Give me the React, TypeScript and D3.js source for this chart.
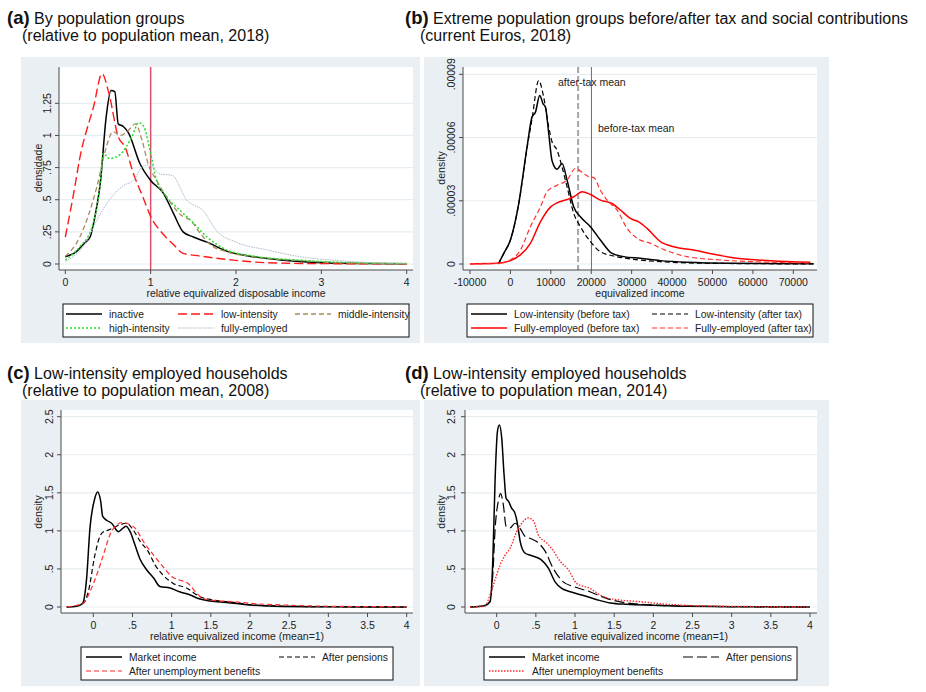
import React from 'react';
import * as d3 from 'd3';

// ---- data ----
// panel a: density by population group, x = relative income
const aInactive = [[0,0.057],[0.13,0.096],[0.22,0.16],[0.29,0.21],[0.35,0.38],[0.41,0.63],[0.48,1.15],[0.535,1.35],[0.58,1.34],[0.62,1.09],[0.68,1.07],[0.74,1.02],[0.875,0.78],[1.0,0.65],[1.15,0.55],[1.27,0.39],[1.38,0.25],[1.5,0.21],[1.66,0.17],[1.89,0.10],[2.2,0.057],[2.55,0.03],[3.0,0.01],[3.5,0.004],[4,0.002]];
const aLowInt = [[0,0.21],[0.09,0.52],[0.19,0.89],[0.25,1.04],[0.33,1.22],[0.43,1.48],[0.51,1.33],[0.62,0.99],[0.70,0.91],[0.80,0.70],[0.91,0.52],[1.01,0.355],[1.11,0.26],[1.27,0.15],[1.38,0.083],[1.58,0.062],[1.97,0.03],[2.36,0.01],[3,0.003],[4,0.001]];
const aMidInt = [[0,0.06],[0.17,0.21],[0.37,0.60],[0.48,0.91],[0.56,1.03],[0.64,1.0],[0.74,1.04],[0.82,1.09],[0.90,0.96],[0.97,0.78],[1.07,0.65],[1.19,0.52],[1.34,0.39],[1.48,0.33],[1.58,0.24],[1.70,0.15],[1.89,0.096],[2.2,0.057],[2.75,0.026],[3.5,0.005],[4,0.002]];
const aHighInt = [[0,0.03],[0.17,0.135],[0.31,0.28],[0.41,0.63],[0.445,0.86],[0.52,0.82],[0.64,0.85],[0.78,0.99],[0.86,1.10],[0.92,1.07],[0.99,0.89],[1.07,0.65],[1.19,0.52],[1.34,0.42],[1.5,0.32],[1.66,0.21],[1.89,0.11],[2.2,0.062],[2.75,0.03],[3.5,0.008],[4,0.003]];
const aFullEmp = [[0,0.02],[0.21,0.135],[0.41,0.39],[0.52,0.50],[0.68,0.61],[0.80,0.65],[0.91,0.76],[0.99,0.77],[1.11,0.70],[1.25,0.69],[1.42,0.50],[1.62,0.41],[1.77,0.26],[2.0,0.17],[2.36,0.11],[2.75,0.057],[3.14,0.03],[3.6,0.01],[4,0.005]];
const aXTicks = [0, 1, 2, 3, 4];
const aYTicks = [0, 0.25, 0.5, 0.75, 1, 1.25];
const aMeanLine = 1;

// panel b: euros, density in units of 1e-5
const bLowBefore = [[-3000,0],[-1650,0.5],[0,1.14],[2060,2.87],[4120,5.56],[5360,6.98],[6190,7.2],[7260,8.0],[8080,7.6],[8660,7.45],[9480,6.2],[10300,4.9],[11550,4.5],[12780,4.77],[14020,3.98],[15670,2.7],[17320,2.24],[19800,1.77],[22270,1.14],[25150,0.5],[28040,0.35],[32160,0.27],[37100,0.16],[43700,0.08],[55000,0.03],[75000,0.01]];
const bLowAfter = [[-3000,0],[-1650,0.5],[0,1.14],[2060,2.85],[4120,5.5],[5360,6.9],[7000,8.7],[8250,7.9],[9480,6.5],[10300,5.8],[11550,5.4],[12780,4.6],[14020,3.66],[15670,2.4],[17320,1.77],[19800,1.06],[22270,0.58],[25570,0.38],[30500,0.22],[37100,0.11],[50000,0.03],[75000,0.005]];
const bFullBefore = [[-10000,0],[-3300,0.03],[0,0.16],[2470,0.43],[4950,0.98],[7420,2.0],[9900,2.7],[11550,2.9],[14020,3.06],[15670,3.19],[17730,3.43],[19800,3.3],[22270,3.03],[25150,2.87],[27220,2.56],[29690,2.16],[31750,2.0],[33810,1.69],[37110,1.06],[40410,0.82],[45360,0.66],[50310,0.46],[56080,0.27],[64330,0.16],[74230,0.08]];
const bFullAfter = [[-10000,0],[-3300,0.03],[0,0.2],[2470,0.66],[4950,1.77],[7420,2.7],[9070,3.43],[11550,3.74],[14020,3.98],[16080,4.53],[18140,4.29],[19380,4.14],[20620,4.1],[22270,3.5],[23920,3.03],[26390,2.56],[28870,1.69],[31340,1.22],[34640,0.98],[37940,0.69],[43710,0.35],[51960,0.19],[60210,0.11],[74000,0.05]];
const bXTicks = [-10000, 0, 10000, 20000, 30000, 40000, 50000, 60000, 70000];
const bYTicks = [0, 3, 6, 9];
const bYLabels = ['0', '.00003', '.00006', '.00009'];
const bAfterTaxMean = 16750;
const bBeforeTaxMean = 20050;

// panel c: low-intensity households 2008
const cMarket = [[-0.34,0],[-0.21,0.01],[-0.136,0.05],[-0.085,0.38],[-0.043,1.03],[0.02,1.43],[0.055,1.51],[0.094,1.39],[0.12,1.19],[0.17,1.14],[0.234,1.10],[0.32,0.99],[0.383,1.04],[0.417,1.06],[0.47,0.99],[0.53,0.82],[0.6,0.62],[0.68,0.49],[0.77,0.38],[0.85,0.27],[0.98,0.25],[1.1,0.2],[1.23,0.16],[1.36,0.105],[1.49,0.08],[1.70,0.06],[2.0,0.026],[2.3,0.01],[3,0.003],[4,0]];
const cPensions = [[-0.34,0],[-0.136,0.04],[-0.064,0.2],[0.02,0.68],[0.085,0.93],[0.13,0.99],[0.19,1.01],[0.255,1.04],[0.34,1.08],[0.425,1.10],[0.51,1.01],[0.6,0.86],[0.70,0.73],[0.79,0.55],[0.89,0.42],[1.02,0.31],[1.19,0.25],[1.36,0.135],[1.53,0.092],[1.79,0.06],[2.04,0.026],[2.5,0.01],[3,0.004],[4,0]];
const cUnemp = [[-0.34,0],[-0.128,0.05],[-0.043,0.2],[0.043,0.42],[0.128,0.68],[0.213,0.95],[0.30,1.08],[0.36,1.11],[0.45,1.09],[0.53,1.04],[0.64,0.86],[0.77,0.68],[0.89,0.53],[1.0,0.40],[1.1,0.355],[1.21,0.31],[1.32,0.18],[1.40,0.114],[1.57,0.083],[1.79,0.07],[2.0,0.048],[2.43,0.026],[3,0.01],[4,0.003]];

// panel d: low-intensity households 2014
const dMarket = [[-0.34,0],[-0.15,0.02],[-0.085,0.07],[-0.05,0.6],[-0.02,1.69],[0.01,2.31],[0.034,2.39],[0.064,2.22],[0.094,1.74],[0.12,1.43],[0.15,1.39],[0.19,1.30],[0.234,1.23],[0.264,1.10],[0.30,0.86],[0.36,0.71],[0.43,0.68],[0.49,0.66],[0.57,0.62],[0.66,0.51],[0.745,0.33],[0.83,0.245],[0.94,0.2],[1.11,0.15],[1.28,0.096],[1.45,0.053],[1.66,0.035],[2.0,0.022],[2.43,0.009],[3,0.004],[4,0]];
const dPensions = [[-0.34,0],[-0.15,0.02],[-0.085,0.07],[-0.05,0.42],[-0.02,1.03],[0.02,1.39],[0.05,1.49],[0.085,1.34],[0.12,1.06],[0.17,1.04],[0.234,1.10],[0.30,1.03],[0.36,0.93],[0.43,0.90],[0.51,0.86],[0.62,0.73],[0.72,0.51],[0.85,0.33],[0.98,0.27],[1.19,0.2],[1.40,0.114],[1.66,0.053],[2.0,0.026],[2.43,0.013],[3,0.005],[4,0]];
const dUnemp = [[-0.34,0],[-0.15,0.01],[-0.085,0.16],[-0.02,0.36],[0.043,0.55],[0.106,0.68],[0.17,0.77],[0.255,0.99],[0.32,1.10],[0.40,1.17],[0.47,1.13],[0.53,0.95],[0.64,0.84],[0.70,0.77],[0.81,0.60],[0.915,0.49],[1.02,0.31],[1.19,0.245],[1.36,0.136],[1.57,0.092],[1.83,0.07],[2.13,0.04],[2.51,0.018],[3,0.008],[4,0.002]];
const cdXTicks = [0, 0.5, 1, 1.5, 2, 2.5, 3, 3.5, 4];
const cdYTicks = [0, 0.5, 1, 1.5, 2, 2.5];

const FONT = "'Liberation Sans', Arial, Helvetica, sans-serif";
const BG = '#e9eff2';
const GRID = '#e6eef1';
const AXIS = '#4a4a4a';
const TXT = '#222';

// stata style: .5 instead of 0.5
const fmt = (v: number) => String(v).replace(/^(-?)0\./, '$1.');

const Panel = ({ cfg }: any) => {
  const x = d3.scaleLinear().domain(cfg.xDomain).range(cfg.xRange);
  const y = d3.scaleLinear().domain(cfg.yDomain).range(cfg.yRange);
  const line = d3.line<number[]>()
    .x(d => x(d[0]))
    .y(d => y(d[1]))
    .curve(d3.curveMonotoneX);
  const p = cfg.plot;
  return (
    <g>
      <rect x={cfg.bg[0]} y={cfg.bg[1]} width={cfg.bg[2]} height={cfg.bg[3]} fill={BG} />
      <rect x={p.x1} y={p.y1} width={p.x2 - p.x1} height={p.y2 - p.y1} fill="#fff" />
      {cfg.yTicks.map((t: number) => (
        <line key={'g' + t} x1={p.x1} x2={p.x2} y1={y(t)} y2={y(t)} stroke={GRID} strokeWidth={1.2} />
      ))}
      {(cfg.vlines || []).map((v: any, i: number) => (
        <line key={'v' + i} x1={x(v.value)} x2={x(v.value)} y1={p.y1} y2={p.y2}
          stroke={v.color} strokeWidth={v.width} strokeDasharray={v.dash} />
      ))}
      {(cfg.notes || []).map((n: any, i: number) => (
        <text key={'n' + i} x={n.x} y={n.y} fontSize={10.5} fill={TXT}>{n.text}</text>
      ))}
      {cfg.series.map((s: any, i: number) => (
        <path key={'s' + i} d={line(s.data) || ''} fill="none" stroke={s.color}
          strokeWidth={s.width} strokeDasharray={s.dash} strokeLinejoin="round" />
      ))}
      {/* axes */}
      <line x1={p.x1} x2={p.x1} y1={p.y1} y2={p.y2} stroke={AXIS} strokeWidth={1} />
      <line x1={p.x1} x2={p.x2} y1={p.y2} y2={p.y2} stroke={AXIS} strokeWidth={1} />
      {cfg.yTicks.map((t: number, i: number) => (
        <g key={'yt' + t}>
          <line x1={p.x1 - 4} x2={p.x1} y1={y(t)} y2={y(t)} stroke={AXIS} />
          <text transform={`translate(${cfg.yLabelX},${y(t)}) rotate(-90)`} textAnchor="middle"
            fontSize={10.5} fill={TXT}>{cfg.yLabels ? cfg.yLabels[i] : fmt(t)}</text>
        </g>
      ))}
      {cfg.xTicks.map((t: number) => (
        <g key={'xt' + t}>
          <line x1={x(t)} x2={x(t)} y1={p.y2} y2={p.y2 + 4} stroke={AXIS} />
          <text x={x(t)} y={p.y2 + 16} textAnchor="middle" fontSize={10.5} fill={TXT}>{fmt(t)}</text>
        </g>
      ))}
      <text x={cfg.xTitle.x} y={p.y2 + 27} textAnchor="middle" fontSize={10.5} fill={TXT}>{cfg.xTitle.text}</text>
      <text transform={`translate(${cfg.yTitle.x},${cfg.yTitle.y}) rotate(-90)`} textAnchor="middle"
        fontSize={10.5} fill={TXT}>{cfg.yTitle.text}</text>
      {/* legend */}
      <rect x={cfg.legend.box[0]} y={cfg.legend.box[1]} width={cfg.legend.box[2]} height={cfg.legend.box[3]}
        fill="#fff" stroke="#111" strokeWidth={1} />
      {cfg.legend.items.map((it: any, i: number) => {
        const s = cfg.series[it.s];
        return (
          <g key={'l' + i}>
            <line x1={it.x} x2={it.x + 36} y1={it.y} y2={it.y} stroke={s.color}
              strokeWidth={s.width} strokeDasharray={s.dash} />
            <text x={it.x + 43} y={it.y + 4} fontSize={10.3} fill={TXT}>{s.name}</text>
          </g>
        );
      })}
      {/* title */}
      <text x={cfg.title.x} y={cfg.title.y} fontSize={16} fill="#111">
        <tspan fontWeight="bold" fontSize={18.5}>{cfg.title.tag}</tspan>
        <tspan> {cfg.title.line1}</tspan>
      </text>
      <text x={cfg.title.x + 15} y={cfg.title.y + 17} fontSize={16} fill="#111">{cfg.title.line2}</text>
    </g>
  );
};

const panelA = {
  bg: [21, 57, 399, 286],
  plot: { x1: 59, x2: 413, y1: 67, y2: 270 },
  xDomain: [0, 4], xRange: [65.3, 406.7],
  yDomain: [0, 1.25], yRange: [264, 103.3],
  xTicks: aXTicks, yTicks: aYTicks, yLabelX: 51,
  xTitle: { text: 'relative equivalized disposable income', x: 236 },
  yTitle: { text: 'densidade', x: 42, y: 168 },
  vlines: [{ value: aMeanLine, color: '#d94f6c', width: 1.5 }],
  series: [
    { name: 'inactive', data: aInactive, color: '#000', width: 1.5 },
    { name: 'low-intensity', data: aLowInt, color: '#ff1a1a', width: 1.4, dash: '9,4' },
    { name: 'middle-intensity', data: aMidInt, color: '#a88a62', width: 1.3, dash: '5,3' },
    { name: 'high-intensity', data: aHighInt, color: '#22e022', width: 1.5, dash: '2,2' },
    { name: 'fully-employed', data: aFullEmp, color: '#a9b9cc', width: 1, dash: '1.5,1' },
  ],
  legend: {
    box: [63, 304, 346, 33],
    items: [
      { s: 0, x: 66, y: 314 }, { s: 1, x: 178, y: 314 }, { s: 2, x: 295, y: 314 },
      { s: 3, x: 66, y: 328 }, { s: 4, x: 178, y: 328 },
    ],
  },
  title: { x: 7, y: 24, tag: '(a)', line1: 'By population groups', line2: '(relative to population mean, 2018)' },
};

const panelB = {
  bg: [424, 57, 405, 286],
  plot: { x1: 463, x2: 817, y1: 67, y2: 270 },
  xDomain: [-10000, 70000], xRange: [470, 793.3],
  yDomain: [0, 9], yRange: [264, 74.3],
  xTicks: bXTicks, yTicks: bYTicks, yLabels: bYLabels, yLabelX: 455,
  xTitle: { text: 'equivalized income', x: 640 },
  yTitle: { text: 'density', x: 445, y: 168 },
  vlines: [
    { value: bAfterTaxMean, color: '#a6a6a6', width: 2, dash: '6,3' },
    { value: bBeforeTaxMean, color: '#6e6e6e', width: 1 },
  ],
  notes: [
    { text: 'after-tax mean', x: 558, y: 86 },
    { text: 'before-tax mean', x: 598, y: 132 },
  ],
  series: [
    { name: 'Low-intensity (before tax)', data: bLowBefore, color: '#000', width: 1.5 },
    { name: 'Low-intensity (after tax)', data: bLowAfter, color: '#000', width: 1.2, dash: '5,3' },
    { name: 'Fully-employed (before tax)', data: bFullBefore, color: '#f00', width: 1.5 },
    { name: 'Fully-employed (after tax)', data: bFullAfter, color: '#ff3030', width: 1.2, dash: '5,3' },
  ],
  legend: {
    box: [467, 304, 346, 33],
    items: [
      { s: 0, x: 471, y: 314 }, { s: 1, x: 652, y: 314 },
      { s: 2, x: 471, y: 328 }, { s: 3, x: 652, y: 328 },
    ],
  },
  title: { x: 405, y: 24, tag: '(b)', line1: 'Extreme population groups before/after tax and social contributions', line2: '(current Euros, 2018)' },
};

const panelC = {
  bg: [21, 400, 399, 286],
  plot: { x1: 61, x2: 413, y1: 410, y2: 613 },
  xDomain: [0, 4], xRange: [93.3, 406.7],
  yDomain: [0, 2.5], yRange: [607, 416.7],
  xTicks: cdXTicks, yTicks: cdYTicks, yLabelX: 53,
  xTitle: { text: 'relative equivalized income (mean=1)', x: 237 },
  yTitle: { text: 'density', x: 42, y: 512 },
  series: [
    { name: 'Market income', data: cMarket, color: '#000', width: 1.5 },
    { name: 'After pensions', data: cPensions, color: '#000', width: 1.2, dash: '5,3' },
    { name: 'After unemployment benefits', data: cUnemp, color: '#ff2a2a', width: 1.2, dash: '5,3' },
  ],
  legend: {
    box: [81, 647, 312, 33],
    items: [
      { s: 0, x: 86, y: 657 }, { s: 1, x: 279, y: 657 }, { s: 2, x: 86, y: 671 },
    ],
  },
  title: { x: 7, y: 379, tag: '(c)', line1: 'Low-intensity employed households', line2: '(relative to population mean, 2008)' },
};

const panelD = {
  bg: [424, 400, 405, 286],
  plot: { x1: 465, x2: 817, y1: 410, y2: 613 },
  xDomain: [0, 4], xRange: [496.7, 810],
  yDomain: [0, 2.5], yRange: [607, 416.7],
  xTicks: cdXTicks, yTicks: cdYTicks, yLabelX: 455,
  xTitle: { text: 'relative equivalized income (mean=1)', x: 641 },
  yTitle: { text: 'density', x: 445, y: 512 },
  series: [
    { name: 'Market income', data: dMarket, color: '#000', width: 1.5 },
    { name: 'After pensions', data: dPensions, color: '#000', width: 1.2, dash: '10,4' },
    { name: 'After unemployment benefits', data: dUnemp, color: '#ff2a2a', width: 1.4, dash: '1.5,1.5' },
  ],
  legend: {
    box: [484, 647, 313, 33],
    items: [
      { s: 0, x: 489, y: 657 }, { s: 1, x: 683, y: 657 }, { s: 2, x: 489, y: 671 },
    ],
  },
  title: { x: 405, y: 379, tag: '(d)', line1: 'Low-intensity employed households', line2: '(relative to population mean, 2014)' },
};

export default function App() {
  return (
    <div style={{ position: 'absolute', left: 0, top: 0 }}>
      <svg width={926} height={692} style={{ display: 'block', fontFamily: FONT, background: '#fff' }}>
        <Panel cfg={panelA} />
        <Panel cfg={panelB} />
        <Panel cfg={panelC} />
        <Panel cfg={panelD} />
      </svg>
    </div>
  );
}
